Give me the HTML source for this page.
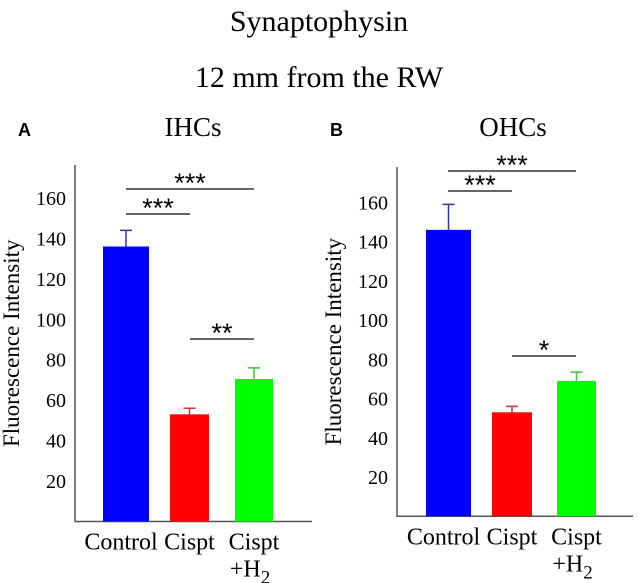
<!DOCTYPE html>
<html><head><meta charset="utf-8"><style>
body{margin:0;background:#fff;}
svg{display:block;font-family:"Liberation Serif",serif;}
</style></head><body>
<svg id="c" width="638" height="583" viewBox="0 0 638 583">
<text x="319" y="31" font-size="30" text-anchor="middle">Synaptophysin</text>
<text x="319" y="87" font-size="30" text-anchor="middle">12 mm from the RW</text>
<text x="18" y="136" font-size="18" font-weight="bold" font-family="Liberation Sans,sans-serif">A</text>
<text x="330" y="136" font-size="18" font-weight="bold" font-family="Liberation Sans,sans-serif">B</text>
<text x="193" y="136" font-size="27" text-anchor="middle">IHCs</text>
<text x="513" y="136" font-size="27" text-anchor="middle">OHCs</text>
</svg>
<script>
const categories=["Control","Cispt","Cispt+H2"];
const ihcValues=[136,53,70.5];
const ihcErrors=[8,3,5.5];
const ohcValues=[146,53,69];
const ohcErrors=[13,3,4.5];
const yTicks=[20,40,60,80,100,120,140,160];
const colors=["#0000ff","#ff0000","#00ff00"];
const errColors=["#3333aa","#cc3333","#33cc33"];
const ihcSig=[{a:0,b:2,t:"***",lvl:0},{a:0,b:1,t:"***",lvl:1},{a:1,b:2,t:"**",lvl:2}];
const ohcSig=[{a:0,b:2,t:"***",lvl:0},{a:0,b:1,t:"***",lvl:1},{a:1,b:2,t:"*",lvl:2}];
const NS="http://www.w3.org/2000/svg";
const svg=document.getElementById('c');
function el(tag,attrs,parent){const e=document.createElementNS(NS,tag);for(const k in attrs)e.setAttribute(k,attrs[k]);(parent||svg).appendChild(e);return e;}
function panel(P,vals,errs,sig,pfx){
  const y=v=>P.y0-v*P.k;
  const g=el('g',{});
  
  
  const ax=el('path',{d:`M${P.ax} ${P.top}V${P.y0}H${P.xend}`,stroke:'#555',fill:'none','stroke-width':1.5},g);
  
  
  yTicks.forEach(t=>{
    const tx=el('text',{x:P.ax-9,y:y(t)+7,'font-size':20,'text-anchor':'end'},g);
    tx.textContent=t;
    
    
  });
  const yl=el('text',{transform:`translate(${P.ax-56},${(P.top+P.y0)/2}) rotate(-90)`,'font-size':23,'text-anchor':'middle'},g);
  yl.textContent='Fluorescence Intensity';
  
  
  vals.forEach((v,i)=>{
    const x0=P.bx[i],w=P.bw[i],cx=x0+w/2;
    const e=y(v+errs[i]);
    const el1=el('path',{d:`M${cx} ${y(v)}V${e}M${cx-6} ${e}H${cx+6}`,stroke:errColors[i],'stroke-width':1.5,fill:'none'},g);
    
    
    const r=el('rect',{x:x0,y:y(v),width:w,height:P.y0-y(v),fill:colors[i]},g);
    
    
  });
  const lab=[["Control"],["Cispt"],["Cispt","+H"]];
  lab.forEach((ls,i)=>{
    const cx=P.bx[i]+P.bw[i]/2;
    const t=el('text',{x:cx+(i==0?-5:0),y:P.y0+28,'font-size':24,'text-anchor':'middle'},g);
    t.textContent=ls[0];
    
    
    if(ls[1]){
      const t2=el('text',{x:cx-4,y:P.y0+55,'font-size':24,'text-anchor':'middle'},g);
      t2.textContent='+H';
      const s=el('tspan',{dy:7,'font-size':19},t2);s.textContent='2';
      
      
    }
  });
  sig.forEach(s=>{
    const x1=P.sx[s.a],x2=P.sx[s.b],yy=P.sy[s.lvl];
    const l=el('line',{x1:x1,x2:x2,y1:yy,y2:yy,stroke:'#333','stroke-width':1.5},g);
    
    
    const t=el('text',{x:(x1+x2)/2,y:yy+3,'font-size':27,'font-family':'Liberation Sans,sans-serif','text-anchor':'middle'},g);
    t.textContent=s.t;
    
    
  });
}
panel({ax:75,top:165,y0:521.5,k:2.022,xend:312,bx:[103,170,235],bw:[46,39,38],sx:[126,190,254],sy:[189,214,339]},ihcValues,ihcErrors,ihcSig,'ihc');
panel({ax:397,top:167,y0:516.3,k:1.962,xend:633,bx:[426,492,557],bw:[45,40,39],sx:[448,512,576],sy:[171,191,356]},ohcValues,ohcErrors,ohcSig,'ohc');
</script>
</body></html>
